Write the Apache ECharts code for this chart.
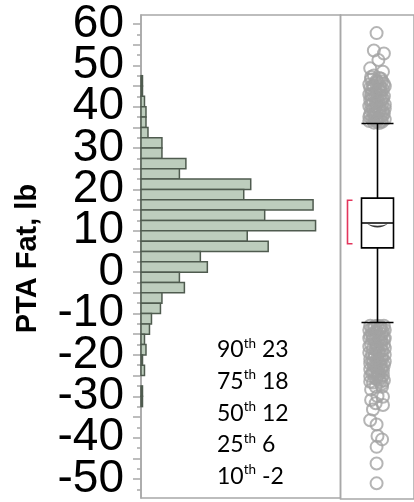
<!DOCTYPE html>
<html><head><meta charset="utf-8">
<script src="https://cdn.jsdelivr.net/npm/echarts@6/dist/echarts.min.js"></script>
<style>html,body{margin:0;padding:0;background:#fff}#c{width:414px;height:502px}</style>
</head><body><div id="c"></div>
<script>
// ---- data ----
const yMin = -54.58, yMax = 62.17;
const tickLabels = [-50,-40,-30,-20,-10,0,10,20,30,40,50,60];
const majorTicks = [-50,-45,-40,-35,-30,-25,-20,-15,-10,-5,0,5,10,15,20,25,30,35,40,45,50,55,60];
const minorTicks = [-52.5,-47.5,-42.5,-37.5,-32.5,-27.5,-22.5,-17.5,-12.5,-7.5,-2.5,2.5,7.5,12.5,17.5,22.5,27.5,32.5,37.5,42.5,47.5,52.5,57.5];
const binWidth = 2.5;
const binLow = [45,42.5,40,37.5,35,32.5,30,27.5,25,22.5,20,17.5,15,12.5,10,7.5,5,2.5,0,-2.5,-5,-7.5,-10,-12.5,-15,-17.5,-20,-22.5,-25,-27.5,-30,-32.5];
const binCount = [1.5,1.5,3.5,5,5,7,21,21,45,38.5,110,103,172.5,124,175,106.5,127.5,59.5,66.5,38.5,43.5,21,19.5,10.5,8.5,3.5,5,1.5,3.5,0,1.5,1.5];
const boxStats = [-12, 6, 12, 18, 36]; // lower whisker, Q1, median, Q3, upper whisker
const meanValue = 11.4;
const shortestHalf = [7, 17.5];
const percentiles = ['90','75','50','25','10'];
const percentileValues = [23, 18, 12, 6, -2];
// outliers: [jitter, value]
const outliersTop = [[-1,57.8],[-4,53.6],[7,52.9],[1,51.3],[-8,49.3],[6,48.5],[-4,47.6],[2,47.0],[-7,46.6],[5,46.2],[-2,45.8],[-9,45.4],[8,45.0],[1,44.6],[-6,44.2],[4,43.8],[-3,43.4],[-9,43.0],[7,42.6],[0,42.2],[-6,41.8],[4,41.4],[-2,41.0],[8,40.6],[-9,40.2],[2,39.8],[-5,39.4],[6,39.0],[-1,38.6],[-8,38.2],[4,37.8],[-4,37.4],[8,37.0],[0,36.8],[-9,36.6],[5,36.4],[-4,36.2],
  [-7,47.2],[4,46.8],[-1,46.4],[7,45.6],[-5,45.2],[3,45.0],[-8,44.6],[6,44.2],[-1,43.6],[-6,43.2],[3,42.8],[-3,42.4],[6,42.0],[-8,41.6],[1,41.2],[-5,40.8],[5,40.4],[-2,40.0],[8,39.6],[-7,39.2],[2,38.8],[-4,38.4],[6,38.0],[-9,37.6],[1,37.2],[-6,37.0],[4,36.6],[-1,36.4],
  [0,46.0],[-4,44.9],[2,43.9],[-7,42.9],[5,41.9],[-1,40.9],[-7,40.6],[3,39.4],[-3,38.0],[7,38.4],[-2,36.9],[2,36.1]];
const outliersBottom = [[-8,-12.8],[0,-12.8],[7,-12.8],[-4,-13.3],[4,-13.3],[-9,-13.8],[8,-13.8],[-1,-14.3],[-6,-14.8],[5,-14.8],[1,-15.3],[-9,-15.8],[8,-15.8],[-3,-16.3],[4,-16.8],[-7,-17.3],[7,-17.3],[0,-17.8],[-5,-18.3],[5,-18.8],[-9,-19.3],[2,-19.3],[8,-19.8],[-3,-20.3],[-8,-20.8],[5,-20.8],[1,-21.3],[-5,-21.8],[7,-22.3],[-2,-22.8],[-8,-23.3],[4,-23.3],[0,-23.8],[-6,-24.3],[6,-24.8],[-3,-25.3],[2,-25.8],[-8,-26.3],[5,-26.8],[-2,-27.5],[5,-27.5],[-7,-28.2],[0,-29.8],[6,-29.9],[-7,-30.7],[-2,-31.5],[6,-31.9],[-5,-33],[-8,-35.6],[-1,-36.6],[0,-39.4],[5,-40.2],[-1,-42],[-1,-46],[-1,-50.8],
  [-3,-12.9],[3,-12.9],[-6,-13.5],[2,-13.6],[6,-14.2],[-3,-14.6],[-8,-15.2],[3,-15.5],[7,-16.0],[-5,-16.1],[1,-16.6],[-2,-17.0],[4,-17.6],[-9,-17.8],[8,-18.2],[-2,-18.6],[1,-19.0],[-6,-19.6],[5,-20.0],[0,-20.6],[-5,-20.9],[8,-21.4],[-8,-21.9],[3,-22.0],[-4,-22.5],[1,-23.0],[6,-23.6],[-5,-23.9],[2,-24.4],[-8,-24.9],[4,-25.2],[-1,-25.6],[7,-26.0],[-5,-26.5],
  [-1,-13.9],[-5,-15.6],[4,-16.3],[-1,-18.2],[-3,-19.9],[3,-21.0],[-1,-22.0],[5,-22.8],[-3,-24.0],[0,-25.0],[3,-26.3]];

// ---- chart ----
const chart = echarts.init(document.getElementById('c'), null, {renderer:'canvas'});
const frameColor = '#a8a8a8';
const histData = binLow.map((lo,i)=>[binCount[i], lo]);
// split labels over two overlaid axes so the library does not drop crowded neighbours
const labelsA = tickLabels.filter((v,i)=>i%2===0);
const labelsB = tickLabels.filter((v,i)=>i%2===1);
const labelStyle = {fontSize:46, fontFamily:'Liberation Sans', color:'#000', margin:17, showMinLabel:true, showMaxLabel:true};
const pctGraphics = percentiles.map((p,i)=>({
  type:'text', x:217, y:350 + i*31.6,
  style:{
    text:'{n|'+p+'}{s|th}{n| '+percentileValues[i]+'}',
    align:'left', verticalAlign:'middle',
    rich:{
      n:{fontSize:23, fontFamily:'Lato', color:'#111', lineHeight:27},
      s:{fontSize:13.5, fontFamily:'Lato', color:'#111', lineHeight:17, verticalAlign:'top'}
    }
  }
}));
chart.setOption({
  animation:false,
  grid:[
    {left:141, top:15, width:199.5, bottom:3, show:true, borderColor:frameColor, borderWidth:1.5, backgroundColor:'transparent'},
    {left:340.5, top:15, right:-5, bottom:3, show:true, borderColor:frameColor, borderWidth:1.5, backgroundColor:'transparent'},
    {left:341, top:15, width:80, bottom:3, show:false}
  ],
  xAxis:[
    {gridIndex:0, type:'value', min:0, max:200, show:false},
    {gridIndex:1, type:'value', min:0, max:1, show:false},
    {gridIndex:2, type:'category', data:['PTA Fat'], show:false},
    {gridIndex:2, type:'value', min:-40, max:40, show:false}
  ],
  yAxis:[
    {gridIndex:0, type:'value', min:yMin, max:yMax, position:'left',
      axisLine:{show:true, lineStyle:{color:frameColor, width:1.5}},
      axisTick:{show:true, length:8, customValues:majorTicks, lineStyle:{color:frameColor, width:1.5}},
      axisLabel:Object.assign({show:true, customValues:labelsA}, labelStyle),
      splitLine:{show:false}},
    {gridIndex:0, type:'value', min:yMin, max:yMax, position:'left', offset:0,
      axisLine:{show:false},
      axisTick:{show:true, length:4, customValues:minorTicks, lineStyle:{color:frameColor, width:1.5}},
      axisLabel:Object.assign({show:true, customValues:labelsB}, labelStyle),
      splitLine:{show:false}},
    {gridIndex:1, type:'value', min:yMin, max:yMax, show:false},
    {gridIndex:2, type:'value', min:yMin, max:yMax, show:false}
  ],
  series:[
    {type:'custom', xAxisIndex:0, yAxisIndex:0, data:histData, silent:true,
      renderItem:(params, api)=>{
        const c = api.value(0), lo = api.value(1);
        if (!c) return null;
        const p1 = api.coord([0, lo + binWidth]);
        const p2 = api.coord([c, lo]);
        return {type:'rect', shape:{x:p1[0], y:p1[1], width:p2[0]-p1[0], height:p2[1]-p1[1]},
          style:{fill:'#bdcdbd', stroke:'#4f5b4f', lineWidth:1.5}};
      }},
    {type:'scatter', xAxisIndex:3, yAxisIndex:3, data:outliersTop.concat(outliersBottom), silent:true,
      symbol:'circle', symbolSize:12,
      itemStyle:{color:'rgba(0,0,0,0)', borderColor:'#a3a3a3', borderWidth:2}, z:2},
    {type:'boxplot', xAxisIndex:2, yAxisIndex:3, data:[boxStats], boxWidth:[32,32], silent:true,
      itemStyle:{color:'#fff', borderColor:'#000', borderWidth:1.6}, z:3},
    {type:'scatter', xAxisIndex:2, yAxisIndex:3, data:[[0, meanValue]], silent:true, z:4,
      symbol:'path://M0,0 C6,5.3 15,5.3 21,0 C15,3 6,3 0,0 Z', symbolSize:[21,4],
      itemStyle:{color:'#000'}},
    {type:'custom', xAxisIndex:2, yAxisIndex:3, data:[[0, shortestHalf[0], shortestHalf[1]]], silent:true, z:4,
      renderItem:(params, api)=>{
        const a = api.coord([0, api.value(1)]);
        const b = api.coord([0, api.value(2)]);
        const x = a[0] - 30;
        return {type:'polyline', shape:{points:[[x+5,b[1]],[x,b[1]],[x,a[1]],[x+5,a[1]]]},
          style:{stroke:'#e3355c', lineWidth:1.6, fill:null}};
      }}
  ],
  graphic:[
    {type:'text', x:27.5, y:258.5, rotation:Math.PI/2,
      style:{text:'PTA Fat, lb', fontSize:29, fontWeight:'bold', fontFamily:'Liberation Sans', fill:'#000', align:'center', verticalAlign:'middle'}}
  ].concat(pctGraphics)
});
</script></body></html>
